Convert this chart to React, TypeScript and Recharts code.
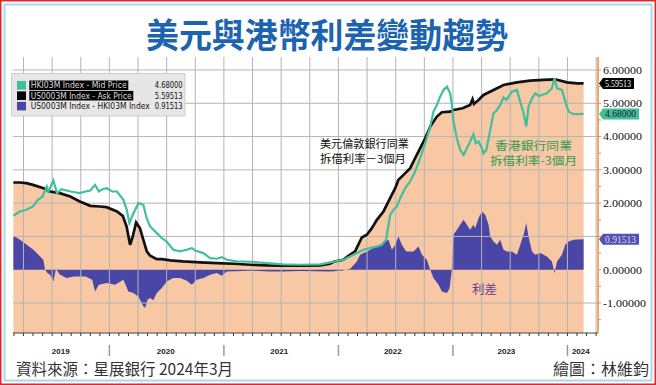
import React from 'react';
import { ComposedChart, Area, Line, XAxis, YAxis, ReferenceDot } from 'recharts';

// x = months since Jan 2019 (fractional)
const usLibor3m: [number, number][] = [
  [1.94, 2.62], [2.6, 2.62], [3.3, 2.6], [4.0, 2.55], [5.1, 2.45], [5.8, 2.35], [6.8, 2.3], [7.9, 2.2],
  [8.9, 2.05], [10.0, 1.92], [11.0, 1.9], [11.7, 1.88], [12.8, 1.75], [13.4, 1.62], [13.8, 1.3], [14.17, 0.75],
  [14.45, 1.0], [14.8, 1.42], [15.2, 1.25], [15.56, 0.9], [15.92, 0.55], [16.27, 0.42], [16.97, 0.32], [17.5, 0.32],
  [18.4, 0.28], [19.7, 0.25], [21.5, 0.22], [23.3, 0.2], [25.0, 0.18], [26.75, 0.15], [28.5, 0.13], [30.2, 0.12],
  [32.0, 0.12], [34.1, 0.13], [35.1, 0.18], [35.5, 0.24], [36.5, 0.3], [37.2, 0.45], [37.75, 0.55], [38.45, 0.97],
  [38.98, 1.05], [39.5, 1.25], [40.03, 1.5], [40.72, 1.75], [41.42, 2.15], [41.95, 2.45], [42.29, 2.7], [42.82, 2.85],
  [43.52, 3.05], [44.04, 3.35], [44.57, 3.65], [45.09, 3.95], [45.62, 4.3], [46.32, 4.6], [46.84, 4.73], [47.7, 4.75],
  [48.06, 4.8], [49.0, 4.85], [49.8, 4.95], [50.05, 5.12], [50.2, 4.98], [50.68, 5.1], [51.2, 5.25], [52.25, 5.4],
  [53.3, 5.55], [54.7, 5.63], [56.1, 5.68], [57.5, 5.7], [58.7, 5.72], [59.95, 5.63], [61.0, 5.6], [61.69, 5.595],
];

const hibor3m: [number, number][] = [
  [1.94, 1.62], [2.6, 1.75], [3.3, 1.8], [4.0, 1.9], [4.5, 2.1], [5.0, 2.2], [5.44, 2.5], [5.6, 2.35],
  [6.13, 2.68], [6.5, 2.3], [7.0, 2.42], [7.9, 2.35], [8.9, 2.3], [9.5, 2.35], [10.0, 2.38], [10.5, 2.55],
  [10.9, 2.35], [11.3, 2.42], [11.7, 2.45], [12.3, 2.35], [12.8, 2.35], [13.47, 2.1], [13.82, 1.8], [14.1, 1.4],
  [14.45, 1.65], [15.04, 2.0], [15.56, 1.95], [15.9, 1.55], [16.27, 1.3], [16.97, 1.1], [17.5, 0.95], [18.0, 0.85],
  [18.7, 0.6], [19.4, 0.55], [20.1, 0.6], [20.64, 0.65], [21.0, 0.58], [21.85, 0.5], [22.56, 0.35], [23.26, 0.33],
  [23.78, 0.38], [24.31, 0.3], [25.35, 0.25], [26.75, 0.24], [28.5, 0.2], [30.2, 0.16], [32.0, 0.15], [34.1, 0.16],
  [35.14, 0.22], [36.53, 0.3], [37.58, 0.45], [38.62, 0.6], [39.32, 0.65], [40.03, 0.7], [40.55, 0.75], [41.0, 0.9],
  [41.14, 1.15], [41.42, 1.65], [41.77, 1.8], [42.13, 1.9], [42.47, 2.15], [42.99, 2.45], [43.52, 2.65], [44.04, 2.95],
  [44.57, 3.35], [45.09, 3.8], [45.62, 4.3], [45.96, 4.75], [46.32, 4.95], [46.66, 5.2], [47.01, 5.4], [47.37, 5.5],
  [47.71, 5.3], [47.89, 4.95], [48.06, 4.45], [48.41, 3.95], [48.76, 3.6], [49.11, 3.45], [49.46, 3.65], [49.8, 3.85],
  [50.15, 4.07], [50.4, 3.8], [50.68, 3.85], [51.03, 3.65], [51.2, 3.5], [51.5, 3.6], [51.91, 4.2], [52.25, 4.7],
  [52.61, 4.8], [52.95, 4.95], [53.3, 5.18], [53.6, 5.1], [54.18, 5.35], [54.7, 5.4], [55.05, 5.05], [55.4, 4.7],
  [55.68, 4.3], [55.92, 4.9], [56.28, 5.15], [56.62, 5.3], [57.0, 5.22], [57.85, 5.3], [58.37, 5.45], [58.65, 5.75],
  [58.9, 5.45], [59.42, 5.4], [59.77, 5.05], [60.12, 4.75], [60.64, 4.67], [61.69, 4.68],
];

const spread: [number, number][] = [
  [1.94, 1.02], [2.64, 0.9], [3.34, 0.75], [4.03, 0.6], [4.74, 0.4], [5.08, 0.3], [5.26, 0.0], [5.5, -0.1],
  [5.78, -0.15], [6.13, -0.35], [6.4, 0.02], [6.83, -0.15], [7.5, -0.25], [8.3, -0.2], [9.5, -0.2], [10.2, -0.3],
  [10.5, -0.65], [10.9, -0.45], [11.73, -0.4], [12.6, -0.45], [13.47, -0.3], [13.99, -0.65], [14.52, -0.7], [15.04, -0.8],
  [15.56, -1.1], [15.74, -1.15], [16.0, -0.9], [16.27, -0.85], [16.6, -0.92], [16.97, -0.7], [17.49, -0.55], [18.02, -0.35],
  [18.68, -0.25], [19.41, -0.25], [20.11, -0.33], [20.64, -0.45], [21.16, -0.3], [21.85, -0.25], [22.56, -0.15], [23.26, -0.1],
  [23.78, -0.18], [24.31, -0.05], [26.75, -0.03], [28.8, -0.05], [30.2, -0.05], [32.0, -0.04], [35.1, -0.05], [36.5, -0.02],
  [37.23, 0.03], [37.93, 0.25], [38.27, 0.45], [38.98, 0.55], [39.67, 0.65], [40.37, 0.75], [40.9, 0.85], [41.25, 0.9],
  [41.6, 0.6], [41.95, 0.75], [42.29, 1.0], [42.65, 0.75], [43.1, 0.55], [43.87, 0.55], [44.39, 0.7], [44.75, 0.45],
  [45.27, 0.3], [45.62, 0.0], [45.96, -0.25], [46.49, -0.45], [46.84, -0.65], [47.37, -0.7], [47.65, -0.55], [47.89, 0.0],
  [48.06, 1.05], [48.41, 1.2], [48.76, 1.35], [49.11, 1.5], [49.46, 1.35], [49.8, 1.2], [50.15, 1.35], [50.33, 1.25],
  [50.68, 1.55], [51.03, 1.75], [51.38, 1.65], [51.73, 1.35], [51.91, 1.0], [52.25, 0.85], [52.61, 0.75], [52.95, 0.9],
  [53.3, 0.6], [53.65, 0.55], [54.18, 0.55], [54.7, 0.45], [55.05, 0.75], [55.4, 1.05], [55.68, 1.4], [55.92, 1.0],
  [56.28, 0.55], [56.62, 0.45], [57.15, 0.5], [57.85, 0.4], [58.37, 0.25], [58.65, -0.1], [58.9, 0.25], [59.42, 0.45],
  [59.77, 0.75], [60.12, 0.85], [60.64, 0.9], [61.69, 0.915],
];

const latestValues = { hk: 4.68, us: 5.59513, spread: 0.91513 };
const legendLabels = ['HKI03M Index - Mid Price', 'US0003M Index - Ask Price', 'US0003M Index - HKI03M Index'];
const legendValues = ['4.68000', '5.59513', '0.91513'];
const yearLabels = ['2019', '2020', '2021', '2022', '2023', '2024'];
const yearLabelPos = [6.9, 17.9, 29.8, 41.7, 53.6, 61.4];
const yearStarts = [12, 24, 36, 48, 60];
const monthTicks = Array.from({ length: 62 }, (_, i) => i + 2);
const quarterLines = Array.from({ length: 21 }, (_, i) => 3 + i * 3);
const yTicks = [-1.5, -1, -0.5, 0, 0.5, 1, 1.5, 2, 2.5, 3, 3.5, 4, 4.5, 5, 5.5, 6];
const yGrid = [-1, 1, 2, 3, 4, 5, 6];
const hiddenYLabels = [1];

const X_MIN = 1.9, X_MAX = 63.2, Y_MIN = -1.9, Y_MAX = 6.39;
const PEACH = '#f8c8a4', PURPLE = '#4a46a6', TEAL = '#40bf9d', ORANGE = '#f08a3c', GRID = '#b4b4b4';

const toRows = (arr: [number, number][]) => arr.map(([t, v]) => ({ t, v }));
const usData = toRows(usLibor3m);
const hkData = toRows(hibor3m);
const spData = toRows(spread);
const xTicks = [...monthTicks, ...yearLabelPos].sort((a, b) => a - b);
const hGridData = yGrid.map((v) => [{ t: X_MIN, v }, { t: X_MAX, v }]);
const vGridData = quarterLines.map((t) => [{ t, v: Y_MIN }, { t, v: Y_MAX }]);

const XTick = (props: any) => {
  const { x, y, payload } = props;
  const v = payload.value;
  const li = yearLabelPos.indexOf(v);
  if (li >= 0) {
    return (
      <text x={x} y={y + 21} textAnchor="middle" fontSize={8} fontWeight="bold" fill="#222" fontFamily="Liberation Sans, Arial, sans-serif">
        {yearLabels[li]}
      </text>
    );
  }
  return (
    <g>
      <line x1={x} x2={x} y1={y} y2={y + 3} stroke="#333" strokeWidth={1} />
      {yearStarts.includes(v) && <line x1={x} x2={x} y1={y + 12} y2={y + 23} stroke="#9a9a9a" strokeWidth={1.5} />}
    </g>
  );
};

const YTick = (props: any) => {
  const { x, y, payload } = props;
  const v = payload.value;
  const major = Number.isInteger(v) && !hiddenYLabels.includes(v);
  return (
    <g>
      <line x1={x} x2={x + 3} y1={y} y2={y} stroke={ORANGE} strokeWidth={1} />
      {major && (
        <text x={x + 5} y={y} dy={3.8} fontSize={11} fill="#111" fontFamily="Liberation Serif, serif" textLength={v < 0 ? 43 : 39} lengthAdjust="spacingAndGlyphs">
          {v.toFixed(5)}
        </text>
      )}
    </g>
  );
};

const makeTag = (fill: string, textFill: string, label: string, w: number) => (props: any) => {
  const { cx, cy } = props;
  const h = 11;
  const x0 = cx + 1;
  const d = `M${x0},${cy} L${x0 + 4},${cy - h / 2} L${x0 + w},${cy - h / 2} L${x0 + w},${cy + h / 2} L${x0 + 4},${cy + h / 2} Z`;
  return (
    <g>
      <path d={d} fill={fill} />
      <text x={x0 + 6} y={cy} dy={3.4} fontSize={9.5} fill={textFill} fontFamily="Liberation Serif, serif" textLength={w - 9} lengthAdjust="spacingAndGlyphs">{label}</text>
    </g>
  );
};

export default function App() {
  const cjk = 'Noto Sans CJK TC, Noto Sans CJK SC, sans-serif';
  return (
    <div style={{ position: 'absolute', left: 0, top: 0, width: 656, height: 385, background: '#fff', overflow: 'hidden' }}>
      <ComposedChart width={656} height={385} margin={{ top: 57, right: 0, bottom: 22, left: 13 }}>
        <XAxis
          type="number"
          dataKey="t"
          domain={[X_MIN, X_MAX]}
          allowDataOverflow
          ticks={xTicks}
          interval={0}
          tick={<XTick />}
          tickLine={false}
          tickSize={0}
          tickMargin={0}
          height={30}
          axisLine={{ stroke: '#444', strokeWidth: 1 }}
        />
        <YAxis
          type="number"
          orientation="right"
          domain={[Y_MIN, Y_MAX]}
          allowDataOverflow
          ticks={yTicks}
          interval={0}
          tick={<YTick />}
          tickLine={false}
          tickSize={0}
          tickMargin={0}
          width={58}
          axisLine={{ stroke: ORANGE, strokeWidth: 1.5 }}
        />
        <Area
          data={usData}
          dataKey="v"
          type="linear"
          stroke="none"
          fill={PEACH}
          fillOpacity={1}
          baseValue={Y_MIN}
          isAnimationActive={false}
        />
        {hGridData.map((d, i) => (
          <Line key={'h' + i} data={d} dataKey="v" type="linear" stroke={GRID} strokeWidth={1} dot={false} activeDot={false} isAnimationActive={false} />
        ))}
        {vGridData.map((d, i) => (
          <Line key={'v' + i} data={d} dataKey="v" type="linear" stroke={GRID} strokeWidth={1} dot={false} activeDot={false} isAnimationActive={false} />
        ))}
        <Area
          data={spData}
          dataKey="v"
          type="linear"
          stroke="none"
          fill={PURPLE}
          fillOpacity={1}
          baseValue={0}
          isAnimationActive={false}
        />
        <Line data={usData} dataKey="v" type="linear" stroke="#111" strokeWidth={2.7} dot={false} isAnimationActive={false} />
        <Line data={hkData} dataKey="v" type="linear" stroke={TEAL} strokeWidth={2.2} dot={false} isAnimationActive={false} />
        <ReferenceDot x={X_MAX} y={latestValues.us} r={0} ifOverflow="visible" shape={makeTag('#000', '#fff', '5.59513', 35)} />
        <ReferenceDot x={X_MAX} y={latestValues.hk} r={0} ifOverflow="visible" shape={makeTag(TEAL, '#222', '4.68000', 40)} />
        <ReferenceDot x={X_MAX} y={latestValues.spread} r={0} ifOverflow="visible" shape={makeTag('#5551b0', '#d8d8ee', '0.91513', 40)} />
      </ComposedChart>
      <svg width={656} height={385} style={{ position: 'absolute', left: 0, top: 0, pointerEvents: 'none' }}>
        <rect x={0.75} y={0.75} width={654.5} height={383.5} fill="none" stroke="#e3262d" strokeWidth={1.5} />
        <rect x={4.5} y={4.5} width={647} height={376} fill="none" stroke="#a8d8ef" strokeWidth={2} />
        <text x={327} y={48} textAnchor="middle" fontSize={34} fontWeight={700} fill="#1c64b0" fontFamily={cjk} textLength={362} lengthAdjust="spacingAndGlyphs">
          美元與港幣利差變動趨勢
        </text>
        {/* legend */}
        <rect x={11.5} y={73.5} width={173.5} height={42.5} fill="#e6e6e6" stroke="#cfcfcf" strokeWidth={1} />
        {[TEAL, '#000', PURPLE].map((c, i) => {
          const cy = 85.3 + i * 10.4;
          const tl = [96, 101, 119][i];
          return (
            <g key={i}>
              <rect x={17} y={cy - 4.3} width={9} height={8.6} fill={c} />
              {i < 2 && <rect x={29.3} y={cy - 4.8} width={tl + 3} height={9.6} fill="#000" />}
              <text x={30.7} y={cy + 3} fontSize={8.5} fill={i < 2 ? '#ddd' : '#111'} fontFamily="DejaVu Sans Condensed, Liberation Sans, sans-serif" textLength={tl} lengthAdjust="spacingAndGlyphs">
                {legendLabels[i]}
              </text>
              <text x={182.7} y={cy + 3} fontSize={8.5} fill="#111" textAnchor="end" fontFamily="DejaVu Sans Condensed, Liberation Sans, sans-serif" textLength={28} lengthAdjust="spacingAndGlyphs">
                {legendValues[i]}
              </text>
            </g>
          );
        })}
        {/* annotations */}
        <text x={320} y={147.5} fontSize={11} fill="#111" fontFamily={cjk} textLength={89} lengthAdjust="spacingAndGlyphs">美元倫敦銀行同業</text>
        <text x={320} y={162.5} fontSize={11} fill="#111" fontFamily={cjk} textLength={86} lengthAdjust="spacingAndGlyphs">拆借利率－3個月</text>
        <text x={533.5} y={150} fontSize={11.5} fill="#2f9a55" textAnchor="middle" fontFamily={cjk} textLength={77} lengthAdjust="spacingAndGlyphs">香港銀行同業</text>
        <text x={533.5} y={165} fontSize={11.5} fill="#2f9a55" textAnchor="middle" fontFamily={cjk} textLength={87} lengthAdjust="spacingAndGlyphs">拆借利率-3個月</text>
        <text x={484.5} y={294} fontSize={12.5} fill="#5b3d8e" textAnchor="middle" fontFamily={cjk} textLength={25} lengthAdjust="spacingAndGlyphs">利差</text>
        {/* footer */}
        <text x={16} y={375} fontSize={15.5} fill="#333" fontFamily={cjk} textLength={217} lengthAdjust="spacingAndGlyphs">資料來源：星展銀行 2024年3月</text>
        <text x={649} y={375} fontSize={15.5} fill="#333" textAnchor="end" fontFamily={cjk} textLength={96} lengthAdjust="spacingAndGlyphs">繪圖：林維鈞</text>
      </svg>
    </div>
  );
}
